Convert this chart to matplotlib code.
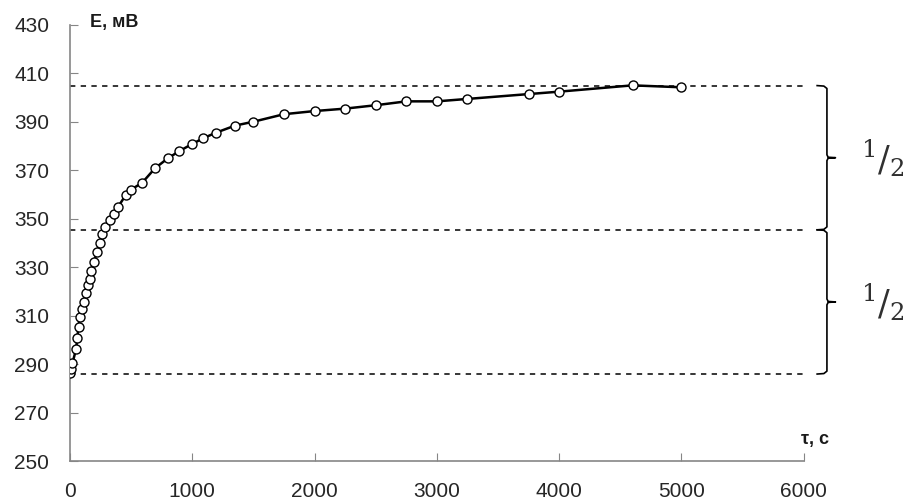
import matplotlib
matplotlib.use('Agg')
import matplotlib.pyplot as plt

# данные кривой E(τ)
t_s = [0, 10, 20, 50, 60, 70, 80, 100, 115, 130, 145, 160, 170, 195, 220, 245,
       265, 290, 325, 360, 395, 455, 500, 590, 695, 800, 895, 995, 1090, 1195,
       1350, 1500, 1750, 2000, 2250, 2500, 2750, 3000, 3250, 3750, 4000, 4600, 5000]
e_mv = [286.4, 288.0, 290.5, 296.3, 301.0, 305.6, 309.7, 312.8, 315.6, 319.6,
        322.7, 325.4, 328.6, 332.1, 336.3, 340.2, 343.7, 346.7, 349.6, 352.2,
        355.1, 359.8, 362.1, 364.9, 370.9, 375.0, 378.0, 380.8, 383.3, 385.6,
        388.5, 390.1, 393.2, 394.5, 395.5, 396.9, 398.5, 398.5, 399.5, 401.5,
        402.5, 405.1, 404.3]

# уровни: конечное, половинное и начальное значение
levels = [405.0, 345.5, 286.0]
x_ticks = [0, 1000, 2000, 3000, 4000, 5000, 6000]
y_ticks = [250, 270, 290, 310, 330, 350, 370, 390, 410, 430]

plt.rcParams['font.family'] = ['Liberation Sans', 'DejaVu Sans']

fig = plt.figure(figsize=(9.07, 5.03), dpi=100)
ax = fig.add_axes([70 / 907, 1 - 461.3 / 503, (803.7 - 70) / 907, (461.3 - 25) / 503])

axis_col = '#868686'
for lv in levels:
    ax.plot([0, 6000], [lv, lv], color='black', lw=1.1, ls=(0, (3.5, 3.5)), zorder=1)

ax.plot(t_s, e_mv, color='black', lw=1.8, marker='o', ms=6.5,
        markerfacecolor='white', markeredgecolor='black', markeredgewidth=1.0, zorder=3)

ax.set_xlim(0, 6000)
ax.set_ylim(250, 430)
ax.set_xticks(x_ticks)
ax.set_yticks(y_ticks)
ax.tick_params(direction='in', length=6, color=axis_col, labelsize=15,
               labelcolor='#262626')
ax.tick_params(axis='y', pad=15)
ax.tick_params(axis='x', pad=15)
for side in ['top', 'right']:
    ax.spines[side].set_visible(False)
for side in ['left', 'bottom']:
    ax.spines[side].set_color(axis_col)
    ax.spines[side].set_linewidth(1.2)

ax.text(165, 431, 'E, мВ', fontsize=13, fontweight='bold', va='center', ha='left',
        color='#1a1a1a')
ax.text(6090, 259, 'τ, с', fontsize=13, fontweight='bold', va='center', ha='center',
        color='#1a1a1a')

# фигурные скобки справа
def brace(y_top, y_bot):
    x0, x1, x2 = 6110, 6190, 6260
    ym = (y_top + y_bot) / 2
    xs = [x0, x1 - 25, x1, x1, x1 + 10, x2, x1 + 10, x1, x1, x1 - 25, x0]
    ys = [y_top, y_top - 0.2, y_top - 1.2, ym + 1.2, ym + 0.2, ym, ym - 0.2,
          ym - 1.2, y_bot + 1.2, y_bot + 0.2, y_bot]
    ax.plot(xs, ys, color='black', lw=1.2, clip_on=False)
    ax.text(6650, ym, r'$^{1}/_{2}$', fontsize=25, ha='center', va='center',
            color='#303030', math_fontfamily='dejavuserif')

brace(levels[0], levels[1])
brace(levels[1], levels[2])

fig.savefig('out.png', dpi=100)
